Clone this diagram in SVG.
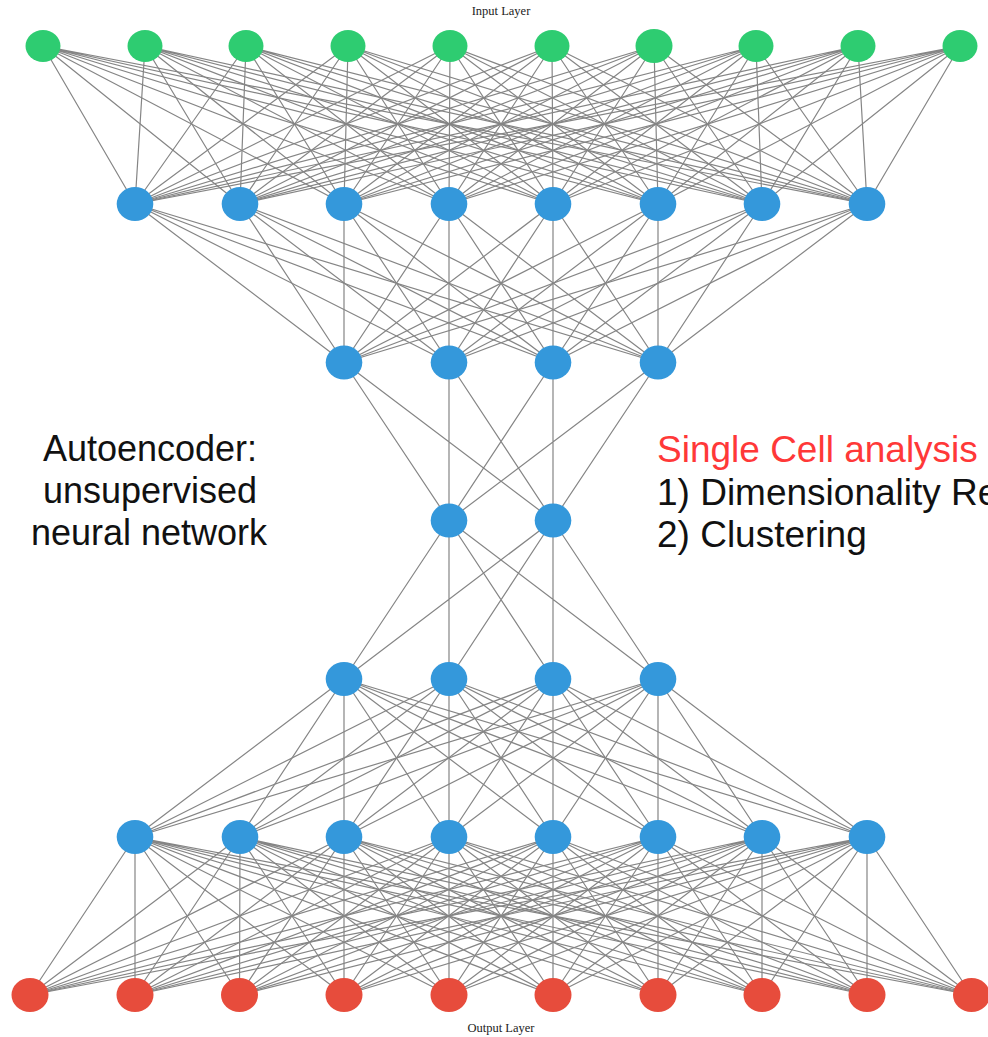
<svg xmlns="http://www.w3.org/2000/svg" width="988" height="1037" viewBox="0 0 988 1037">
  <style>
    .edge { fill: none; stroke: #858585; stroke-width: 1.2; }
    .in { fill: #2ecc71; }
    .hid { fill: #3498db; }
    .out { fill: #e74c3c; }
    .cap { font-family: "Liberation Serif", "Times New Roman", serif; font-size: 12.5px; fill: #222; text-anchor: middle; }
    .note { font-family: "Liberation Sans", Arial, sans-serif; font-size: 36px; fill: #111; }
    .side { font-size: 37px; }
    .title { fill: #ff3838; }
  </style>
  <rect width="988" height="1037" fill="#ffffff"/>

  <!-- fully connected links between consecutive layers -->
  <g id="connectors">
    <!-- input (10) to hidden 1 (8) -->
    <path class="edge" d="M43 46L135 204M43 46L240 204M43 46L344 204M43 46L449 204M43 46L553 204M43 46L658 204M43 46L762 204M43 46L867 204"/>
    <path class="edge" d="M145 46L135 204M145 46L240 204M145 46L344 204M145 46L449 204M145 46L553 204M145 46L658 204M145 46L762 204M145 46L867 204"/>
    <path class="edge" d="M246 46L135 204M246 46L240 204M246 46L344 204M246 46L449 204M246 46L553 204M246 46L658 204M246 46L762 204M246 46L867 204"/>
    <path class="edge" d="M348 46L135 204M348 46L240 204M348 46L344 204M348 46L449 204M348 46L553 204M348 46L658 204M348 46L762 204M348 46L867 204"/>
    <path class="edge" d="M450 46L135 204M450 46L240 204M450 46L344 204M450 46L449 204M450 46L553 204M450 46L658 204M450 46L762 204M450 46L867 204"/>
    <path class="edge" d="M552 46L135 204M552 46L240 204M552 46L344 204M552 46L449 204M552 46L553 204M552 46L658 204M552 46L762 204M552 46L867 204"/>
    <path class="edge" d="M654 46L135 204M654 46L240 204M654 46L344 204M654 46L449 204M654 46L553 204M654 46L658 204M654 46L762 204M654 46L867 204"/>
    <path class="edge" d="M756 46L135 204M756 46L240 204M756 46L344 204M756 46L449 204M756 46L553 204M756 46L658 204M756 46L762 204M756 46L867 204"/>
    <path class="edge" d="M858 46L135 204M858 46L240 204M858 46L344 204M858 46L449 204M858 46L553 204M858 46L658 204M858 46L762 204M858 46L867 204"/>
    <path class="edge" d="M960 46L135 204M960 46L240 204M960 46L344 204M960 46L449 204M960 46L553 204M960 46L658 204M960 46L762 204M960 46L867 204"/>
    <!-- hidden 1 (8) to hidden 2 (4) -->
    <path class="edge" d="M135 204L344 362.5M135 204L449 362.5M135 204L553 362.5M135 204L658 362.5"/>
    <path class="edge" d="M240 204L344 362.5M240 204L449 362.5M240 204L553 362.5M240 204L658 362.5"/>
    <path class="edge" d="M344 204L344 362.5M344 204L449 362.5M344 204L553 362.5M344 204L658 362.5"/>
    <path class="edge" d="M449 204L344 362.5M449 204L449 362.5M449 204L553 362.5M449 204L658 362.5"/>
    <path class="edge" d="M553 204L344 362.5M553 204L449 362.5M553 204L553 362.5M553 204L658 362.5"/>
    <path class="edge" d="M658 204L344 362.5M658 204L449 362.5M658 204L553 362.5M658 204L658 362.5"/>
    <path class="edge" d="M762 204L344 362.5M762 204L449 362.5M762 204L553 362.5M762 204L658 362.5"/>
    <path class="edge" d="M867 204L344 362.5M867 204L449 362.5M867 204L553 362.5M867 204L658 362.5"/>
    <!-- hidden 2 (4) to bottleneck (2) -->
    <path class="edge" d="M344 362.5L449 520.5M344 362.5L553 520.5M449 362.5L449 520.5M449 362.5L553 520.5M553 362.5L449 520.5M553 362.5L553 520.5M658 362.5L449 520.5M658 362.5L553 520.5"/>
    <!-- bottleneck (2) to hidden 4 (4) -->
    <path class="edge" d="M449 520.5L344 679M449 520.5L449 679M449 520.5L553 679M449 520.5L658 679M553 520.5L344 679M553 520.5L449 679M553 520.5L553 679M553 520.5L658 679"/>
    <!-- hidden 4 (4) to hidden 5 (8) -->
    <path class="edge" d="M344 679L135 837M344 679L240 837M344 679L344 837M344 679L449 837M344 679L553 837M344 679L658 837M344 679L762 837M344 679L867 837"/>
    <path class="edge" d="M449 679L135 837M449 679L240 837M449 679L344 837M449 679L449 837M449 679L553 837M449 679L658 837M449 679L762 837M449 679L867 837"/>
    <path class="edge" d="M553 679L135 837M553 679L240 837M553 679L344 837M553 679L449 837M553 679L553 837M553 679L658 837M553 679L762 837M553 679L867 837"/>
    <path class="edge" d="M658 679L135 837M658 679L240 837M658 679L344 837M658 679L449 837M658 679L553 837M658 679L658 837M658 679L762 837M658 679L867 837"/>
    <!-- hidden 5 (8) to output (10) -->
    <path class="edge" d="M135 837L30 995M135 837L135 995M135 837L239.5 995M135 837L344 995M135 837L449 995M135 837L553 995M135 837L658 995M135 837L762 995M135 837L867 995M135 837L971.5 995"/>
    <path class="edge" d="M240 837L30 995M240 837L135 995M240 837L239.5 995M240 837L344 995M240 837L449 995M240 837L553 995M240 837L658 995M240 837L762 995M240 837L867 995M240 837L971.5 995"/>
    <path class="edge" d="M344 837L30 995M344 837L135 995M344 837L239.5 995M344 837L344 995M344 837L449 995M344 837L553 995M344 837L658 995M344 837L762 995M344 837L867 995M344 837L971.5 995"/>
    <path class="edge" d="M449 837L30 995M449 837L135 995M449 837L239.5 995M449 837L344 995M449 837L449 995M449 837L553 995M449 837L658 995M449 837L762 995M449 837L867 995M449 837L971.5 995"/>
    <path class="edge" d="M553 837L30 995M553 837L135 995M553 837L239.5 995M553 837L344 995M553 837L449 995M553 837L553 995M553 837L658 995M553 837L762 995M553 837L867 995M553 837L971.5 995"/>
    <path class="edge" d="M658 837L30 995M658 837L135 995M658 837L239.5 995M658 837L344 995M658 837L449 995M658 837L553 995M658 837L658 995M658 837L762 995M658 837L867 995M658 837L971.5 995"/>
    <path class="edge" d="M762 837L30 995M762 837L135 995M762 837L239.5 995M762 837L344 995M762 837L449 995M762 837L553 995M762 837L658 995M762 837L762 995M762 837L867 995M762 837L971.5 995"/>
    <path class="edge" d="M867 837L30 995M867 837L135 995M867 837L239.5 995M867 837L344 995M867 837L449 995M867 837L553 995M867 837L658 995M867 837L762 995M867 837L867 995M867 837L971.5 995"/>
  </g>

  <!-- input layer -->
  <g id="in0"><ellipse class="in" cx="43" cy="46" rx="17.5" ry="16"/></g>
  <g id="in1"><ellipse class="in" cx="145" cy="46" rx="17.5" ry="16"/></g>
  <g id="in2"><ellipse class="in" cx="246" cy="46" rx="17.5" ry="16"/></g>
  <g id="in3"><ellipse class="in" cx="348" cy="46" rx="17.5" ry="16"/></g>
  <g id="in4"><ellipse class="in" cx="450" cy="46" rx="17.5" ry="16"/></g>
  <g id="in5"><ellipse class="in" cx="552" cy="46" rx="17.5" ry="16"/></g>
  <g id="in6"><ellipse class="in" cx="654" cy="46" rx="18.5" ry="17"/></g>
  <g id="in7"><ellipse class="in" cx="756" cy="46" rx="17.5" ry="16"/></g>
  <g id="in8"><ellipse class="in" cx="858" cy="46" rx="17.5" ry="16"/></g>
  <g id="in9"><ellipse class="in" cx="960" cy="46" rx="17.5" ry="16"/></g>

  <!-- hidden layer 1 -->
  <g id="h1_0"><ellipse class="hid" cx="135" cy="204" rx="18.3" ry="17"/></g>
  <g id="h1_1"><ellipse class="hid" cx="240" cy="204" rx="18.3" ry="17"/></g>
  <g id="h1_2"><ellipse class="hid" cx="344" cy="204" rx="18.3" ry="17"/></g>
  <g id="h1_3"><ellipse class="hid" cx="449" cy="204" rx="18.3" ry="17"/></g>
  <g id="h1_4"><ellipse class="hid" cx="553" cy="204" rx="18.3" ry="17"/></g>
  <g id="h1_5"><ellipse class="hid" cx="658" cy="204" rx="18.3" ry="17"/></g>
  <g id="h1_6"><ellipse class="hid" cx="762" cy="204" rx="18.3" ry="17"/></g>
  <g id="h1_7"><ellipse class="hid" cx="867" cy="204" rx="18.3" ry="17"/></g>

  <!-- hidden layer 2 -->
  <g id="h2_0"><ellipse class="hid" cx="344" cy="362.5" rx="18.3" ry="17"/></g>
  <g id="h2_1"><ellipse class="hid" cx="449" cy="362.5" rx="18.3" ry="17"/></g>
  <g id="h2_2"><ellipse class="hid" cx="553" cy="362.5" rx="18.3" ry="17"/></g>
  <g id="h2_3"><ellipse class="hid" cx="658" cy="362.5" rx="18.3" ry="17"/></g>

  <!-- bottleneck -->
  <g id="h3_0"><ellipse class="hid" cx="449" cy="520.5" rx="18.3" ry="17"/></g>
  <g id="h3_1"><ellipse class="hid" cx="553" cy="520.5" rx="18.3" ry="17"/></g>

  <!-- hidden layer 4 -->
  <g id="h4_0"><ellipse class="hid" cx="344" cy="679" rx="18.3" ry="17"/></g>
  <g id="h4_1"><ellipse class="hid" cx="449" cy="679" rx="18.3" ry="17"/></g>
  <g id="h4_2"><ellipse class="hid" cx="553" cy="679" rx="18.3" ry="17"/></g>
  <g id="h4_3"><ellipse class="hid" cx="658" cy="679" rx="18.3" ry="17"/></g>

  <!-- hidden layer 5 -->
  <g id="h5_0"><ellipse class="hid" cx="135" cy="837" rx="18.3" ry="17"/></g>
  <g id="h5_1"><ellipse class="hid" cx="240" cy="837" rx="18.3" ry="17"/></g>
  <g id="h5_2"><ellipse class="hid" cx="344" cy="837" rx="18.3" ry="17"/></g>
  <g id="h5_3"><ellipse class="hid" cx="449" cy="837" rx="18.3" ry="17"/></g>
  <g id="h5_4"><ellipse class="hid" cx="553" cy="837" rx="18.3" ry="17"/></g>
  <g id="h5_5"><ellipse class="hid" cx="658" cy="837" rx="18.3" ry="17"/></g>
  <g id="h5_6"><ellipse class="hid" cx="762" cy="837" rx="18.3" ry="17"/></g>
  <g id="h5_7"><ellipse class="hid" cx="867" cy="837" rx="18.3" ry="17"/></g>

  <!-- output layer -->
  <g id="out0"><ellipse class="out" cx="30" cy="995" rx="18.5" ry="17"/></g>
  <g id="out1"><ellipse class="out" cx="135" cy="995" rx="18.5" ry="17"/></g>
  <g id="out2"><ellipse class="out" cx="239.5" cy="995" rx="18.5" ry="17"/></g>
  <g id="out3"><ellipse class="out" cx="344" cy="995" rx="18.5" ry="17"/></g>
  <g id="out4"><ellipse class="out" cx="449" cy="995" rx="18.5" ry="17"/></g>
  <g id="out5"><ellipse class="out" cx="553" cy="995" rx="18.5" ry="17"/></g>
  <g id="out6"><ellipse class="out" cx="658" cy="995" rx="18.5" ry="17"/></g>
  <g id="out7"><ellipse class="out" cx="762" cy="995" rx="18.5" ry="17"/></g>
  <g id="out8"><ellipse class="out" cx="867" cy="995" rx="18.5" ry="17"/></g>
  <g id="out9"><ellipse class="out" cx="971.5" cy="995" rx="18.5" ry="17"/></g>

  <!-- layer captions -->
  <text class="cap" x="501" y="15">Input Layer</text>
  <text class="cap" x="501" y="1032">Output Layer</text>

  <!-- annotations -->
  <g id="note-left">
    <text class="note" text-anchor="middle" x="150" y="461">Autoencoder:</text>
    <text class="note" text-anchor="middle" x="150" y="503">unsupervised</text>
    <text class="note" text-anchor="middle" x="149" y="545">neural network</text>
  </g>
  <g id="note-right">
    <text class="note side title" x="657" y="462">Single Cell analysis</text>
    <text class="note side" x="657" y="505">1) Dimensionality Re</text>
    <text class="note side" x="657" y="547">2) Clustering</text>
  </g>
</svg>
